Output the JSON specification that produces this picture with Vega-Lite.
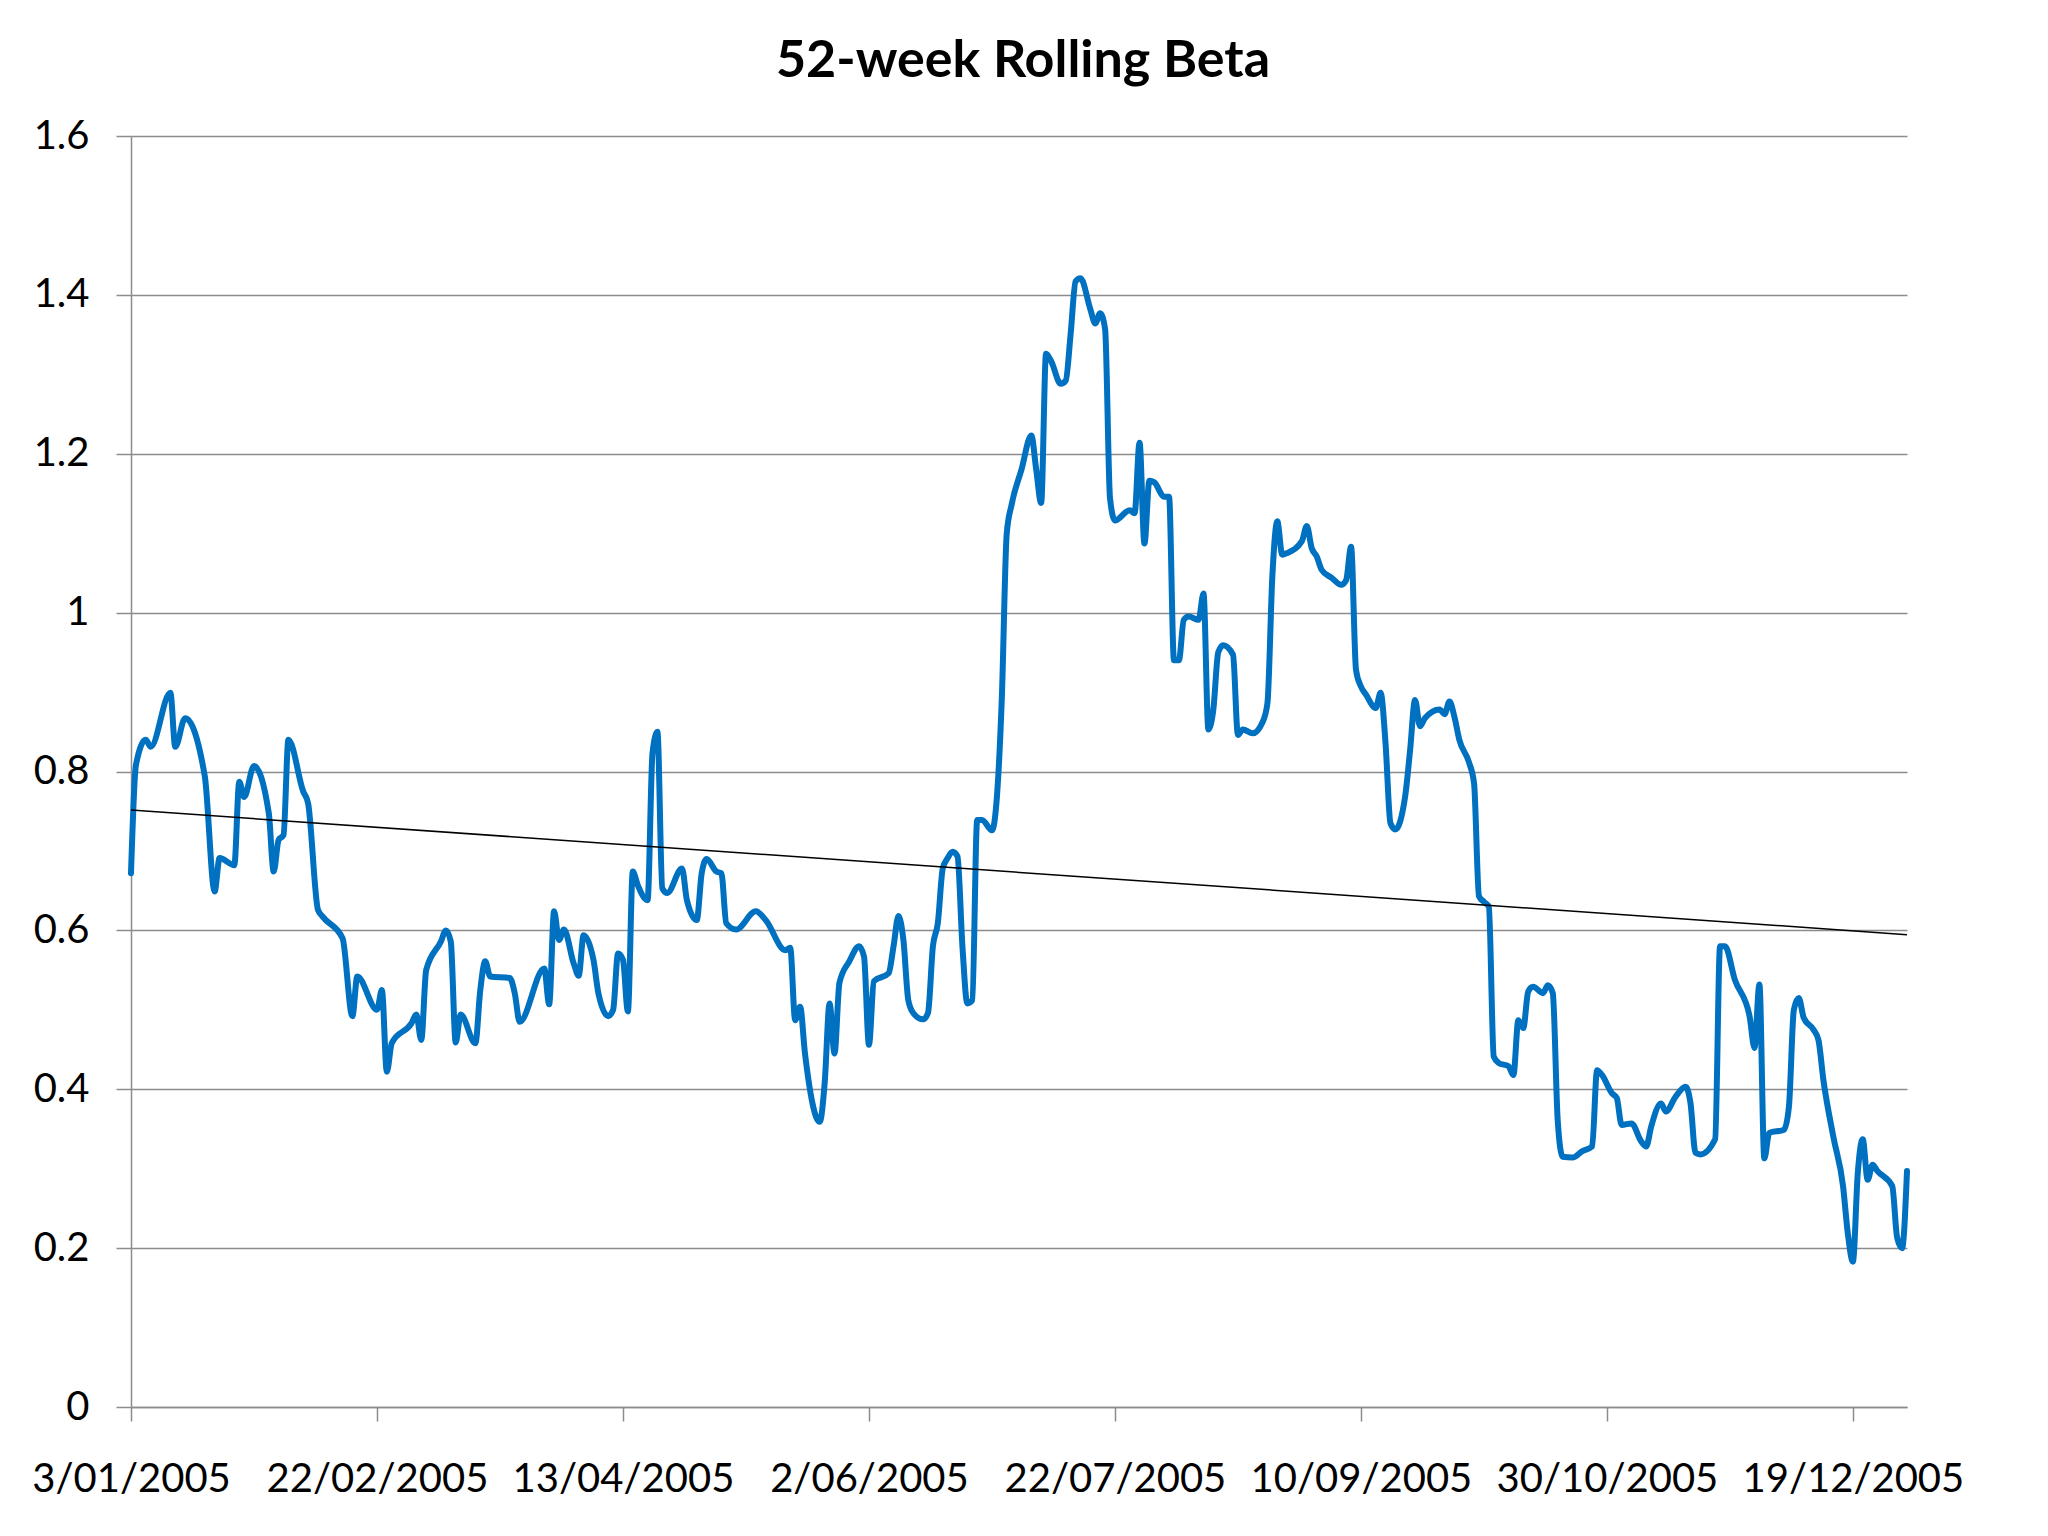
{
  "$schema": "https://vega.github.io/schema/vega-lite/v6.json",
  "width": 1776,
  "height": 1271,
  "autosize": "none",
  "padding": {"left": 131, "top": 136, "right": 141, "bottom": 129},
  "background": "white",
  "title": {"text": "52-week Rolling Beta", "font": "Lato", "fontSize": 52, "fontWeight": "bold", "color": "black", "anchor": "middle", "frame": "group", "dx": 4, "offset": 28},
  "datasets": {
    "beta": [
      {"date":"2005-01-03","beta":0.672},{"date":"2005-01-04","beta":0.808},{"date":"2005-01-06","beta":0.840},{"date":"2005-01-07","beta":0.831},
      {"date":"2005-01-11","beta":0.899},{"date":"2005-01-12","beta":0.831},{"date":"2005-01-14","beta":0.867},{"date":"2005-01-18","beta":0.794},
      {"date":"2005-01-20","beta":0.649},{"date":"2005-01-21","beta":0.691},{"date":"2005-01-24","beta":0.682},{"date":"2005-01-25","beta":0.787},
      {"date":"2005-01-26","beta":0.768},{"date":"2005-01-28","beta":0.807},{"date":"2005-01-31","beta":0.748},{"date":"2005-02-01","beta":0.674},
      {"date":"2005-02-02","beta":0.714},{"date":"2005-02-03","beta":0.720},{"date":"2005-02-04","beta":0.840},{"date":"2005-02-07","beta":0.775},
      {"date":"2005-02-08","beta":0.760},{"date":"2005-02-10","beta":0.626},{"date":"2005-02-11","beta":0.617},{"date":"2005-02-15","beta":0.590},
      {"date":"2005-02-17","beta":0.492},{"date":"2005-02-18","beta":0.542},{"date":"2005-02-22","beta":0.500},{"date":"2005-02-23","beta":0.525},
      {"date":"2005-02-24","beta":0.422},{"date":"2005-02-25","beta":0.458},{"date":"2005-03-01","beta":0.483},{"date":"2005-03-02","beta":0.494},
      {"date":"2005-03-03","beta":0.462},{"date":"2005-03-04","beta":0.550},{"date":"2005-03-07","beta":0.586},{"date":"2005-03-08","beta":0.600},
      {"date":"2005-03-09","beta":0.586},{"date":"2005-03-10","beta":0.459},{"date":"2005-03-11","beta":0.494},{"date":"2005-03-14","beta":0.458},
      {"date":"2005-03-15","beta":0.525},{"date":"2005-03-16","beta":0.561},{"date":"2005-03-17","beta":0.542},{"date":"2005-03-21","beta":0.540},
      {"date":"2005-03-22","beta":0.521},{"date":"2005-03-23","beta":0.485},{"date":"2005-03-28","beta":0.552},{"date":"2005-03-29","beta":0.507},
      {"date":"2005-03-30","beta":0.624},{"date":"2005-03-31","beta":0.588},{"date":"2005-04-01","beta":0.601},{"date":"2005-04-03","beta":0.558},
      {"date":"2005-04-04","beta":0.543},{"date":"2005-04-05","beta":0.594},{"date":"2005-04-07","beta":0.563},{"date":"2005-04-08","beta":0.521},
      {"date":"2005-04-10","beta":0.492},{"date":"2005-04-11","beta":0.500},{"date":"2005-04-12","beta":0.571},{"date":"2005-04-13","beta":0.563},
      {"date":"2005-04-14","beta":0.498},{"date":"2005-04-15","beta":0.674},{"date":"2005-04-16","beta":0.657},{"date":"2005-04-18","beta":0.638},
      {"date":"2005-04-19","beta":0.823},{"date":"2005-04-20","beta":0.850},{"date":"2005-04-21","beta":0.653},{"date":"2005-04-22","beta":0.647},
      {"date":"2005-04-25","beta":0.678},{"date":"2005-04-26","beta":0.638},{"date":"2005-04-28","beta":0.613},{"date":"2005-04-29","beta":0.672},
      {"date":"2005-04-30","beta":0.690},{"date":"2005-05-02","beta":0.674},{"date":"2005-05-03","beta":0.672},{"date":"2005-05-04","beta":0.609},
      {"date":"2005-05-06","beta":0.601},{"date":"2005-05-10","beta":0.624},{"date":"2005-05-12","beta":0.613},{"date":"2005-05-16","beta":0.575},
      {"date":"2005-05-17","beta":0.578},{"date":"2005-05-18","beta":0.487},{"date":"2005-05-19","beta":0.504},{"date":"2005-05-20","beta":0.445},
      {"date":"2005-05-23","beta":0.359},{"date":"2005-05-24","beta":0.408},{"date":"2005-05-25","beta":0.508},{"date":"2005-05-26","beta":0.445},
      {"date":"2005-05-27","beta":0.534},{"date":"2005-05-29","beta":0.561},{"date":"2005-05-31","beta":0.580},{"date":"2005-06-01","beta":0.567},
      {"date":"2005-06-02","beta":0.456},{"date":"2005-06-03","beta":0.536},{"date":"2005-06-06","beta":0.546},{"date":"2005-06-07","beta":0.580},
      {"date":"2005-06-08","beta":0.618},{"date":"2005-06-09","beta":0.588},{"date":"2005-06-10","beta":0.512},{"date":"2005-06-11","beta":0.496},
      {"date":"2005-06-13","beta":0.488},{"date":"2005-06-14","beta":0.496},{"date":"2005-06-15","beta":0.580},{"date":"2005-06-16","beta":0.609},
      {"date":"2005-06-17","beta":0.678},{"date":"2005-06-18","beta":0.691},{"date":"2005-06-19","beta":0.699},{"date":"2005-06-20","beta":0.693},
      {"date":"2005-06-21","beta":0.580},{"date":"2005-06-22","beta":0.508},{"date":"2005-06-23","beta":0.512},{"date":"2005-06-24","beta":0.739},
      {"date":"2005-06-25","beta":0.739},{"date":"2005-06-27","beta":0.726},{"date":"2005-06-29","beta":0.891},{"date":"2005-06-30","beta":1.099},
      {"date":"2005-07-01","beta":1.136},{"date":"2005-07-03","beta":1.180},{"date":"2005-07-05","beta":1.223},{"date":"2005-07-06","beta":1.180},
      {"date":"2005-07-07","beta":1.138},{"date":"2005-07-08","beta":1.326},{"date":"2005-07-09","beta":1.317},{"date":"2005-07-11","beta":1.288},
      {"date":"2005-07-12","beta":1.292},{"date":"2005-07-13","beta":1.351},{"date":"2005-07-14","beta":1.417},{"date":"2005-07-15","beta":1.421},
      {"date":"2005-07-17","beta":1.382},{"date":"2005-07-18","beta":1.364},{"date":"2005-07-19","beta":1.377},{"date":"2005-07-20","beta":1.357},
      {"date":"2005-07-21","beta":1.144},{"date":"2005-07-22","beta":1.116},{"date":"2005-07-25","beta":1.129},{"date":"2005-07-26","beta":1.125},
      {"date":"2005-07-27","beta":1.214},{"date":"2005-07-28","beta":1.087},{"date":"2005-07-29","beta":1.166},{"date":"2005-07-30","beta":1.164},
      {"date":"2005-08-01","beta":1.146},{"date":"2005-08-02","beta":1.146},{"date":"2005-08-03","beta":0.940},{"date":"2005-08-04","beta":0.940},
      {"date":"2005-08-05","beta":0.991},{"date":"2005-08-06","beta":0.995},{"date":"2005-08-08","beta":0.991},{"date":"2005-08-09","beta":1.024},
      {"date":"2005-08-10","beta":0.853},{"date":"2005-08-11","beta":0.878},{"date":"2005-08-12","beta":0.950},{"date":"2005-08-13","beta":0.959},
      {"date":"2005-08-15","beta":0.947},{"date":"2005-08-16","beta":0.846},{"date":"2005-08-17","beta":0.853},{"date":"2005-08-19","beta":0.848},
      {"date":"2005-08-21","beta":0.862},{"date":"2005-08-22","beta":0.886},{"date":"2005-08-23","beta":1.046},{"date":"2005-08-24","beta":1.115},
      {"date":"2005-08-25","beta":1.073},{"date":"2005-08-26","beta":1.075},{"date":"2005-08-29","beta":1.090},{"date":"2005-08-30","beta":1.109},
      {"date":"2005-08-31","beta":1.081},{"date":"2005-09-01","beta":1.071},{"date":"2005-09-02","beta":1.054},{"date":"2005-09-04","beta":1.044},
      {"date":"2005-09-06","beta":1.035},{"date":"2005-09-07","beta":1.041},{"date":"2005-09-08","beta":1.083},{"date":"2005-09-09","beta":0.928},
      {"date":"2005-09-10","beta":0.907},{"date":"2005-09-11","beta":0.897},{"date":"2005-09-13","beta":0.880},{"date":"2005-09-14","beta":0.899},
      {"date":"2005-09-15","beta":0.836},{"date":"2005-09-16","beta":0.735},{"date":"2005-09-17","beta":0.727},{"date":"2005-09-19","beta":0.769},
      {"date":"2005-09-20","beta":0.827},{"date":"2005-09-21","beta":0.890},{"date":"2005-09-22","beta":0.857},{"date":"2005-09-23","beta":0.867},
      {"date":"2005-09-26","beta":0.878},{"date":"2005-09-27","beta":0.872},{"date":"2005-09-28","beta":0.888},{"date":"2005-09-29","beta":0.869},
      {"date":"2005-09-30","beta":0.840},{"date":"2005-10-02","beta":0.811},{"date":"2005-10-03","beta":0.785},{"date":"2005-10-04","beta":0.643},
      {"date":"2005-10-05","beta":0.636},{"date":"2005-10-06","beta":0.630},{"date":"2005-10-07","beta":0.441},{"date":"2005-10-08","beta":0.433},
      {"date":"2005-10-10","beta":0.429},{"date":"2005-10-11","beta":0.418},{"date":"2005-10-12","beta":0.487},{"date":"2005-10-13","beta":0.477},
      {"date":"2005-10-14","beta":0.523},{"date":"2005-10-15","beta":0.529},{"date":"2005-10-17","beta":0.521},{"date":"2005-10-18","beta":0.531},
      {"date":"2005-10-19","beta":0.521},{"date":"2005-10-20","beta":0.361},{"date":"2005-10-21","beta":0.315},{"date":"2005-10-23","beta":0.314},
      {"date":"2005-10-25","beta":0.322},{"date":"2005-10-27","beta":0.328},{"date":"2005-10-28","beta":0.424},{"date":"2005-10-29","beta":0.418},
      {"date":"2005-10-31","beta":0.395},{"date":"2005-11-01","beta":0.389},{"date":"2005-11-02","beta":0.355},{"date":"2005-11-04","beta":0.357},
      {"date":"2005-11-06","beta":0.334},{"date":"2005-11-07","beta":0.328},{"date":"2005-11-08","beta":0.353},{"date":"2005-11-10","beta":0.382},
      {"date":"2005-11-11","beta":0.372},{"date":"2005-11-13","beta":0.391},{"date":"2005-11-15","beta":0.403},{"date":"2005-11-16","beta":0.382},
      {"date":"2005-11-17","beta":0.320},{"date":"2005-11-18","beta":0.318},{"date":"2005-11-21","beta":0.337},{"date":"2005-11-22","beta":0.580},
      {"date":"2005-11-23","beta":0.580},{"date":"2005-11-25","beta":0.538},{"date":"2005-11-28","beta":0.492},{"date":"2005-11-29","beta":0.452},
      {"date":"2005-11-30","beta":0.532},{"date":"2005-12-01","beta":0.313},{"date":"2005-12-02","beta":0.345},{"date":"2005-12-05","beta":0.349},
      {"date":"2005-12-06","beta":0.378},{"date":"2005-12-07","beta":0.500},{"date":"2005-12-08","beta":0.515},{"date":"2005-12-09","beta":0.490},
      {"date":"2005-12-11","beta":0.475},{"date":"2005-12-12","beta":0.462},{"date":"2005-12-13","beta":0.412},{"date":"2005-12-15","beta":0.341},
      {"date":"2005-12-17","beta":0.278},{"date":"2005-12-18","beta":0.217},{"date":"2005-12-19","beta":0.183},{"date":"2005-12-20","beta":0.295},
      {"date":"2005-12-21","beta":0.337},{"date":"2005-12-22","beta":0.286},{"date":"2005-12-23","beta":0.305},{"date":"2005-12-24","beta":0.297},
      {"date":"2005-12-27","beta":0.278},{"date":"2005-12-28","beta":0.213},{"date":"2005-12-29","beta":0.200},{"date":"2005-12-30","beta":0.297}
    ],
    "trend": [
      {"date":"2005-01-03","beta":0.7515},
      {"date":"2005-12-30","beta":0.5946}
    ]
  },
  "layer": [
    {
      "data": {"name": "beta"},
      "mark": {"type": "line", "color": "#0070C0", "strokeWidth": 6, "interpolate": "monotone", "strokeJoin": "round", "strokeCap": "round"},
      "encoding": {
        "x": {
          "field": "date", "type": "temporal",
          "scale": {"type": "utc", "domain": [{"year": 2005, "month": 1, "date": 3, "utc": true}, {"year": 2005, "month": 12, "date": 30, "utc": true}]},
          "axis": {
            "title": null,
            "values": [
              {"year": 2005, "month": 1, "date": 3, "utc": true},
              {"year": 2005, "month": 2, "date": 22, "utc": true},
              {"year": 2005, "month": 4, "date": 13, "utc": true},
              {"year": 2005, "month": 6, "date": 2, "utc": true},
              {"year": 2005, "month": 7, "date": 22, "utc": true},
              {"year": 2005, "month": 9, "date": 10, "utc": true},
              {"year": 2005, "month": 10, "date": 30, "utc": true},
              {"year": 2005, "month": 12, "date": 19, "utc": true}
            ],
            "format": "%-d/%m/%Y",
            "labelFont": "Lato", "labelFontSize": 40, "labelColor": "black",
            "labelFlush": false, "labelOverlap": false, "labelPadding": 38, "labelLimit": 0,
            "tickSize": 14, "tickColor": "#8c8c8c", "tickWidth": 1.5,
            "domainColor": "#8c8c8c", "domainWidth": 1.5, "grid": false
          }
        },
        "y": {
          "field": "beta", "type": "quantitative",
          "scale": {"domain": [0, 1.6], "nice": false, "zero": true},
          "axis": {
            "title": null,
            "values": [0, 0.2, 0.4, 0.6, 0.8, 1, 1.2, 1.4, 1.6],
            "format": "~g",
            "labelFont": "Lato", "labelFontSize": 40, "labelColor": "black",
            "labelPadding": 27,
            "tickSize": 15, "tickColor": "#8c8c8c", "tickWidth": 1.5,
            "domainColor": "#8c8c8c", "domainWidth": 1.5,
            "grid": true, "gridColor": "#8c8c8c", "gridWidth": 1.5
          }
        }
      }
    },
    {
      "data": {"name": "trend"},
      "mark": {"type": "line", "color": "black", "strokeWidth": 1.5},
      "encoding": {
        "x": {"field": "date", "type": "temporal"},
        "y": {"field": "beta", "type": "quantitative"}
      }
    }
  ],
  "config": {"view": {"stroke": null}}
}
